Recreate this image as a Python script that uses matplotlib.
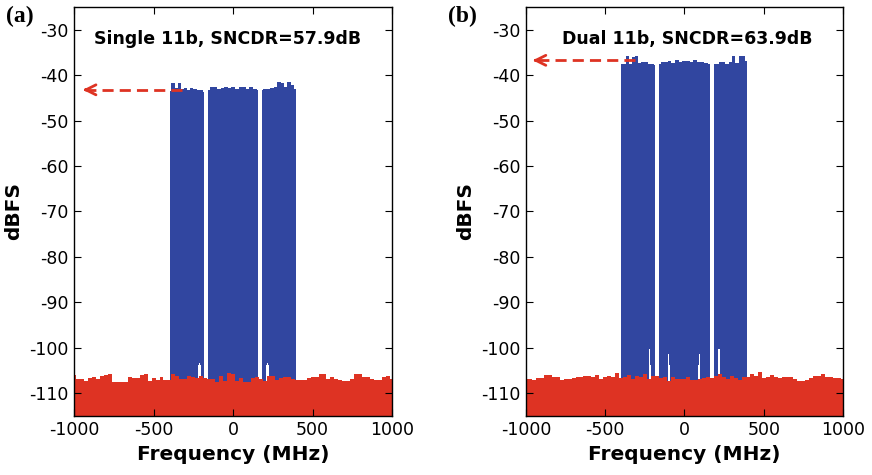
import numpy as np
import matplotlib
matplotlib.use("Agg")
import matplotlib.pyplot as plt

# noise floor tops (dBFS), sampled every 25 MHz from -1000 to 1000
noise_freq = np.arange(-1000, 1001, 25)
noise_a = [-106.0, -106.9, -106.9, -107.3, -106.7, -106.4, -106.9, -106.2, -106.0, -105.8,
           -107.6, -107.6, -107.5, -107.6, -106.5, -106.7, -106.7, -106.0, -105.8, -107.3,
           -106.7, -107.1, -106.4, -107.1, -107.1, -105.8, -106.2, -106.9, -106.9, -106.2,
           -106.4, -106.7, -106.2, -106.7, -106.9, -106.9, -107.6, -106.2, -107.3, -105.5,
           -105.7,
           -107.3, -106.7, -107.6, -107.6, -106.7, -106.4, -106.9, -107.3, -106.2, -106.2,
           -107.1, -106.7, -106.5, -106.5, -106.9, -107.1, -107.1, -107.1, -106.7, -106.5,
           -106.5, -105.8, -105.8, -106.9, -106.5, -106.9, -107.1, -107.3, -107.3, -106.9,
           -105.8, -105.7, -106.4, -106.4, -106.9, -107.1, -107.1, -106.4, -106.2, -106.9]
noise_b = [-106.9, -106.9, -107.1, -106.7, -106.7, -106.0, -106.0, -106.4, -106.5, -107.1,
           -106.9, -106.9, -106.7, -106.5, -106.4, -106.2, -106.2, -106.4, -106.0, -106.9,
           -106.4, -106.2, -106.5, -105.5, -106.7, -106.4, -106.0, -106.9, -106.2, -106.5,
           -105.7, -106.9, -106.2, -106.2, -106.7, -106.5, -107.3, -106.4, -106.9, -106.9,
           -106.9,
           -106.5, -107.1, -107.1, -106.9, -106.7, -106.4, -106.7, -106.2, -105.7, -106.4,
           -106.9, -106.2, -106.7, -107.1, -106.5, -106.5, -105.7, -106.2, -105.3, -106.7,
           -106.5, -106.0, -106.4, -106.7, -106.5, -106.5, -106.4, -106.9, -107.3, -107.3,
           -107.1, -106.7, -106.2, -106.2, -105.7, -106.4, -106.5, -106.7, -106.7, -106.9]

# signal bands: (start MHz, stop MHz) and top level samples across each band
bands_a = [(-397, -180), (-157, 160), (180, 396)]
tops_a = [
    [-43.4, -41.6, -42.8, -41.6, -43.1, -42.8, -43.2, -42.9, -43.0, -43.2, -43.3, -43.6],
    [-43.3, -42.6, -42.5, -43.0, -42.7, -42.6, -42.7, -42.6, -43.0, -42.6, -42.5, -43.0,
     -42.6, -43.0, -43.3],
    [-43.3, -43.0, -43.0, -42.7, -42.6, -41.5, -41.7, -42.6, -41.5, -42.2, -43.0],
]
bands_b = [(-401, -183), (-162, 158), (184, 394)]
tops_b = [
    [-37.5, -37.5, -35.7, -37.5, -35.9, -35.7, -37.2, -37.0, -37.0, -37.5, -37.5, -37.8],
    [-37.5, -37.0, -37.0, -36.8, -37.2, -36.6, -37.0, -36.8, -36.8, -37.0, -36.6, -37.0,
     -37.0, -37.2, -37.5],
    [-37.5, -37.5, -37.0, -37.0, -37.5, -37.0, -35.7, -37.2, -35.7, -35.7, -36.8],
]

# notches in the signal near the floor: centre MHz, tip dBFS
notch_a_freq = [-212, 218]
notch_a_tip = [-103.4, -103.4]
notch_b_freq = [-218, -98, 92, 218]
notch_b_tip = [-100.4, -101.5, -101.5, -100.4]

# marker arrows: level, tail, head (MHz)
arrow_a = (-43.2, -321, -962)
arrow_b = (-36.7, -312, -975)

titles = ["Single 11b, SNCDR=57.9dB", "Dual 11b, SNCDR=63.9dB"]
panel_tags = ["(a)", "(b)"]

blue = "#3146a0"
red = "#de3323"

plt.rcParams["font.family"] = ["DejaVu Sans"]

fig = plt.figure(figsize=(8.72, 4.75), dpi=100)
ax_a = fig.add_axes([0.0849, 0.1248, 0.3647, 0.86])
ax_b = fig.add_axes([0.6032, 0.1248, 0.3635, 0.86])


def draw_panel(ax, bands, tops, notch_f, notch_t, noise, arrow, title, title_x, tag, tag_x):
    for (f0, f1), top in zip(bands, tops):
        f = np.linspace(f0, f1, len(top))
        ax.fill_between(f, -115, top, step="mid", color=blue, lw=0)
    for c, tip in zip(notch_f, notch_t):
        # thin spike up to the tip, wider shoulder lower down
        ax.fill_between([c - 3.5, c + 3.5], -115, tip, color="white", lw=0)
        ax.fill_between([c - 9, c + 9], -115, min(tip + 3.0, -103.8), color="white", lw=0)
    ax.fill_between(noise_freq, -115, noise, step="mid", color=red, lw=0)

    lvl, tail, head = arrow
    ax.plot([tail, head + 40], [lvl, lvl], color=red, lw=2, ls=(0, (4, 2.2)))
    ax.annotate("", xy=(head, lvl), xytext=(head + 60, lvl),
                arrowprops=dict(arrowstyle="->", color=red, lw=2, mutation_scale=18))

    ax.text(title_x, 0.922, title, transform=ax.transAxes, ha="center", va="center",
            fontsize=12.5, fontweight="bold")

    ax.set_xlim(-1000, 1000)
    ax.set_ylim(-115, -25)
    ax.set_xticks([-1000, -500, 0, 500, 1000])
    ax.set_xticklabels(["-1000", "-500", "0", "500", "1000"])
    yt = list(range(-110, -29, 10))
    ax.set_yticks(yt)
    ax.set_yticklabels([str(v) for v in yt])
    ax.tick_params(direction="in", top=True, right=True, length=5, width=0.8,
                   labelsize=12.5, pad=4)
    for s in ax.spines.values():
        s.set_linewidth(1.0)
    ax.set_xlabel("Frequency (MHz)", fontsize=14.5, fontweight="bold", labelpad=4)
    ax.set_ylabel("dBFS", fontsize=14.5, fontweight="bold", labelpad=4)
    fig.text(tag_x, 0.966, tag, fontsize=17, fontweight="bold",
             family="Liberation Serif", va="center")


draw_panel(ax_a, bands_a, tops_a, notch_a_freq, notch_a_tip, noise_a, arrow_a,
           titles[0], 0.483, panel_tags[0], 0.007)
draw_panel(ax_b, bands_b, tops_b, notch_b_freq, notch_b_tip, noise_b, arrow_b,
           titles[1], 0.508, panel_tags[1], 0.514)

fig.savefig("out.png", dpi=100)
